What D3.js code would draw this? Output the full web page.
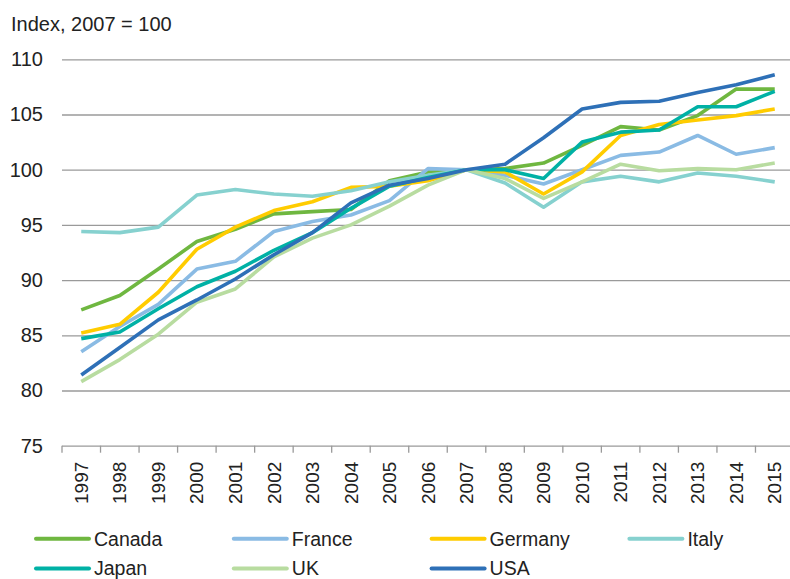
<!DOCTYPE html>
<html>
<head>
<meta charset="utf-8">
<script src="https://cdn.jsdelivr.net/npm/d3@7"></script>
<style>
  body { margin: 0; background: #fff; }
  svg text { font-family: "Liberation Sans", Arial, sans-serif; fill: #222; }
</style>
</head>
<body>
<svg id="chart" width="790" height="579"></svg>
<script>
// data
const years = ["1997","1998","1999","2000","2001","2002","2003","2004","2005","2006",
               "2007","2008","2009","2010","2011","2012","2013","2014","2015"];
const canada  = [87.3, 88.6, 91.0, 93.5, 94.6, 96.0, 96.2, 96.4, 99.0, 99.8, 100, 100.1, 100.6, 102.2, 103.9, 103.6, 104.9, 107.3, 107.3];
const france  = [83.5, 85.8, 87.8, 91.0, 91.7, 94.4, 95.3, 95.9, 97.2, 100.1, 100, 99.5, 98.7, 100.0, 101.3, 101.6, 103.1, 101.4, 102.0];
const germany = [85.2, 86.0, 88.9, 92.8, 94.8, 96.3, 97.1, 98.4, 98.5, 99.0, 100, 99.8, 97.8, 99.8, 103.1, 104.1, 104.5, 104.9, 105.5];
const italy   = [94.4, 94.3, 94.8, 97.7, 98.2, 97.8, 97.6, 98.1, 98.9, 99.5, 100, 98.8, 96.6, 98.9, 99.4, 98.9, 99.7, 99.4, 98.9];
const japan   = [84.7, 85.3, 87.4, 89.4, 90.8, 92.7, 94.3, 96.5, 98.5, 99.3, 100, 100.0, 99.2, 102.5, 103.4, 103.6, 105.7, 105.7, 107.1];
const uk      = [80.8, 82.8, 85.1, 88.0, 89.2, 92.1, 93.8, 95.0, 96.7, 98.6, 100, 99.2, 97.4, 98.9, 100.5, 99.9, 100.1, 100.0, 100.6];
const usa     = [81.4, 83.9, 86.4, 88.2, 90.1, 92.3, 94.3, 97.0, 98.6, 99.2, 100, 100.5, 102.9, 105.5, 106.1, 106.2, 107.0, 107.7, 108.6];

const seriesNames = ["Canada", "France", "Germany", "Italy", "Japan", "UK", "USA"];
const seriesValues = [canada, france, germany, italy, japan, uk, usa];
const seriesColors = ["#6fb740", "#8abbe4", "#ffcc00", "#86d1cf", "#00b1a5", "#b8dca0", "#2e70b7"];
const yTicks = [75, 80, 85, 90, 95, 100, 105, 110];

const svg = d3.select("#chart");
const plotLeft = 62, plotRight = 794, plotTop = 59.3, plotBottom = 445.7;

const x = d3.scaleBand().domain(years).range([plotLeft, plotRight]).padding(0);
const y = d3.scaleLinear().domain([75, 110]).range([plotBottom, plotTop]);

// title
svg.append("text")
    .attr("x", 11)
    .attr("y", 31)
    .attr("font-size", 20)
    .text("Index, 2007 = 100");

// y gridlines + labels
const yAxis = svg.append("g")
    .attr("transform", `translate(${plotLeft},0)`)
    .call(d3.axisLeft(y).tickValues(yTicks).tickSize(-(plotRight - plotLeft)).tickPadding(19).tickFormat(d3.format("d")));
yAxis.select(".domain").remove();
yAxis.selectAll(".tick line").attr("stroke", "#9a9a9a").attr("stroke-width", 1.3);
yAxis.selectAll(".tick text").attr("font-size", 20).attr("fill", "#222");

// x axis: labels at band centres, tick marks at band edges
const xAxis = svg.append("g")
    .attr("transform", `translate(0,${plotBottom})`)
    .call(d3.axisBottom(x).tickSize(0).tickPadding(0));
xAxis.select(".domain").remove();
xAxis.selectAll(".tick text")
    .attr("font-size", 19)
    .attr("fill", "#222")
    .attr("text-anchor", "end")
    .attr("transform", "rotate(-90)")
    .attr("x", -16)
    .attr("y", 0)
    .attr("dy", "0.35em");

const edges = years.map(d => x(d)).concat([x(years[years.length - 1]) + x.bandwidth()]);
xAxis.selectAll("line.edge")
    .data(edges)
    .enter().append("line")
    .attr("class", "edge")
    .attr("x1", d => d).attr("x2", d => d)
    .attr("y1", 0).attr("y2", 7)
    .attr("stroke", "#9a9a9a")
    .attr("stroke-width", 1.3);

// lines
const line = d3.line()
    .x((d, i) => x(years[i]) + x.bandwidth() / 2)
    .y(d => y(d));

svg.append("g")
    .selectAll("path")
    .data(seriesValues)
    .enter().append("path")
    .attr("fill", "none")
    .attr("stroke", (d, i) => seriesColors[i])
    .attr("stroke-width", 3.6)
    .attr("stroke-linejoin", "round")
    .attr("d", line);

// legend, 4 columns x 2 rows
const legend = svg.append("g")
    .selectAll("g")
    .data(seriesNames)
    .enter().append("g")
    .attr("transform", (d, i) => `translate(${36 + (i % 4) * 197.8},${i < 4 ? 538.7 : 568.5})`);

legend.append("line")
    .attr("x1", 0).attr("x2", 53)
    .attr("stroke", (d, i) => seriesColors[i])
    .attr("stroke-width", 4)
    .attr("stroke-linecap", "round");

legend.append("text")
    .attr("x", 58)
    .attr("dy", "0.35em")
    .attr("font-size", 19.5)
    .text(d => d);
</script>
</body>
</html>
